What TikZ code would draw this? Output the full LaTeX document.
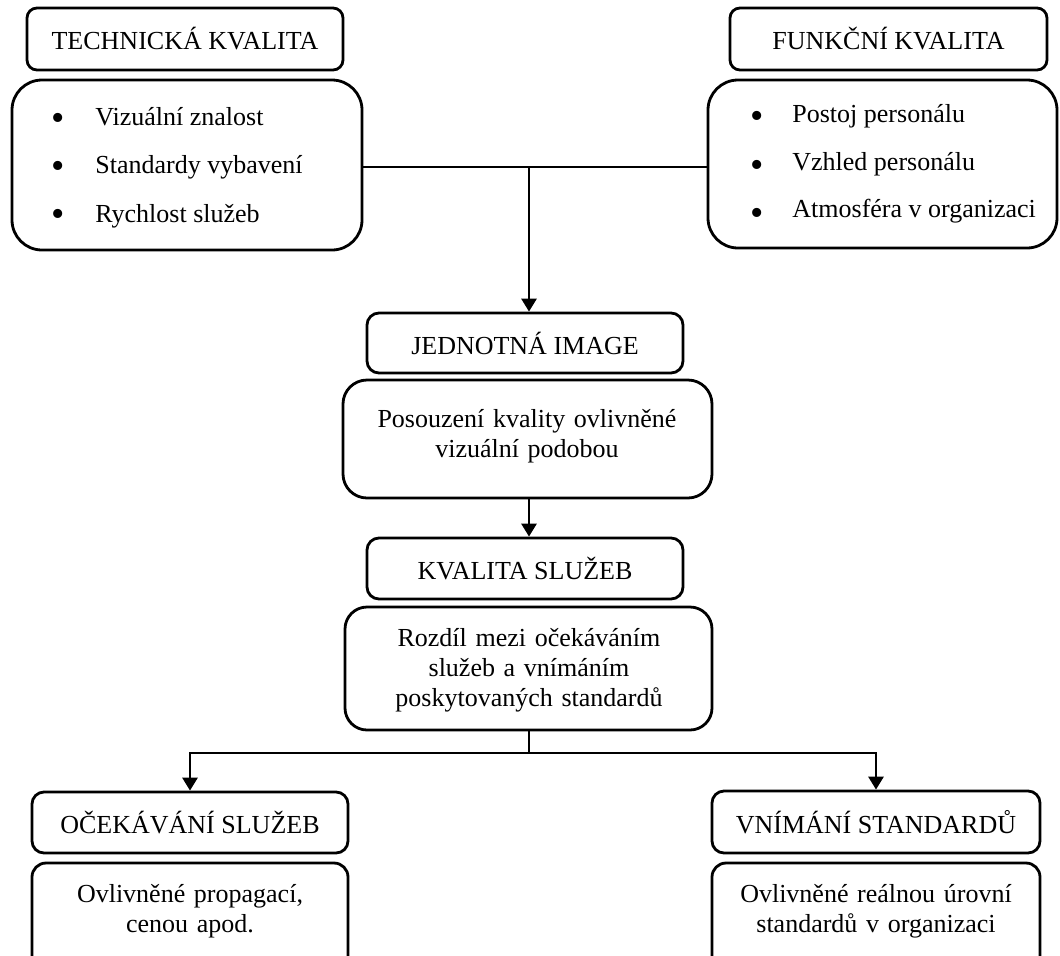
\documentclass[tikz,border=0pt]{standalone}
\usepackage{fontspec}
\setmainfont{Liberation Serif}
\usetikzlibrary{arrows.meta}
\begin{document}
\begin{tikzpicture}[x=0.5pt,y=-0.5pt,
  box/.style={draw, line width=1.4pt, inner sep=0pt, font=\fontsize{13}{14.8}\selectfont},
  txt/.style={inner sep=0pt, font=\fontsize{13}{15}\selectfont},
  mtxt/.style={txt, anchor=base, align=center, text width=180pt},
  bul/.style={inner sep=0pt, anchor=center, font=\fontsize{19}{19}\selectfont},
  item/.style={txt, anchor=base west},
  conn/.style={line width=1.4pt},
  arr/.style={conn, -{Triangle[length=6.5pt,width=7.5pt]}}
]
\useasboundingbox (0,0) rectangle (1060,955);
\clip (0,0) rectangle (1060,955);

% top row: the two quality blocks
\node[box, rounded corners=5pt, minimum width=158pt, minimum height=31pt] (tech) at (185,39) {TECHNICKÁ KVALITA};
\node[box, rounded corners=15pt, minimum width=175pt, minimum height=85pt] (techlist) at (187,165) {};
\node[bul] (tb1) at (58,122) {•};
\node[bul] (tb2) at (58,170) {•};
\node[bul] (tb3) at (58,218) {•};
\node[item] (ti1) at (95,125) {Vizuální znalost};
\node[item] (ti2) at (95,173) {Standardy vybavení};
\node[item] (ti3) at (95,222) {Rychlost služeb};

\node[box, rounded corners=5pt, minimum width=158.5pt, minimum height=31pt] (func) at (888.5,39) {FUNKČNÍ KVALITA};
\node[box, rounded corners=15pt, minimum width=174.5pt, minimum height=84pt] (funclist) at (882.5,164) {};
\node[bul] (fb1) at (757,120) {•};
\node[bul] (fb2) at (757,169) {•};
\node[bul] (fb3) at (757,217) {•};
\node[item] (fi1) at (792,122) {Postoj personálu};
\node[item] (fi2) at (792,170) {Vzhled personálu};
\node[item] (fi3) at (792,217) {Atmosféra v organizaci};

% middle column
\node[box, rounded corners=6pt, minimum width=158pt, minimum height=30pt] (image) at (525,343) {JEDNOTNÁ IMAGE};
\node[box, rounded corners=12pt, minimum width=184.5pt, minimum height=59pt] (posouzeni) at (527.5,439) {};
\node[mtxt] (posouzenitext) at (527,427) {Posouzení kvality ovlivněné\\vizuální podobou};

\node[box, rounded corners=6pt, minimum width=158pt, minimum height=30.5pt] (kvalita) at (525,568.5) {KVALITA SLUŽEB};
\node[box, rounded corners=11pt, minimum width=183.5pt, minimum height=61.5pt] (rozdil) at (528.5,668.5) {};
\node[mtxt] (rozdiltext) at (529,646) {Rozdíl mezi očekáváním\\služeb a vnímáním\\poskytovaných standardů};

% bottom row
\node[box, rounded corners=6pt, minimum width=158pt, minimum height=30.5pt] (ocek) at (190,822.5) {OČEKÁVÁNÍ SLUŽEB};
\node[box, rounded corners=7pt, minimum width=158pt, minimum height=63.5pt] (ocekbox) at (190,926.5) {};
\node[mtxt] (ocektext) at (190,902) {Ovlivněné propagací,\\cenou apod.};

\node[box, rounded corners=6pt, minimum width=164pt, minimum height=31pt] (vnim) at (876,822) {VNÍMÁNÍ STANDARDŮ};
\node[box, rounded corners=7pt, minimum width=164pt, minimum height=63.5pt] (vnimbox) at (876,926.5) {};
\node[mtxt] (vnimtext) at (876,902) {Ovlivněné reálnou úrovní\\standardů v organizaci};

% connectors
\coordinate (join) at (529,167);
\coordinate (split) at (529,753);
\draw[conn] (techlist.east |- join) -- (funclist.west |- join);
\draw[arr] (join) -- (join |- image.north);
\draw[arr] (posouzeni.south -| join) -- (kvalita.north -| join);
\draw[conn] (rozdil.south -| split) -- (split);
\draw[arr] (split) -| (ocek.north);
\draw[arr] (split) -| (vnim.north);
\end{tikzpicture}
\end{document}
